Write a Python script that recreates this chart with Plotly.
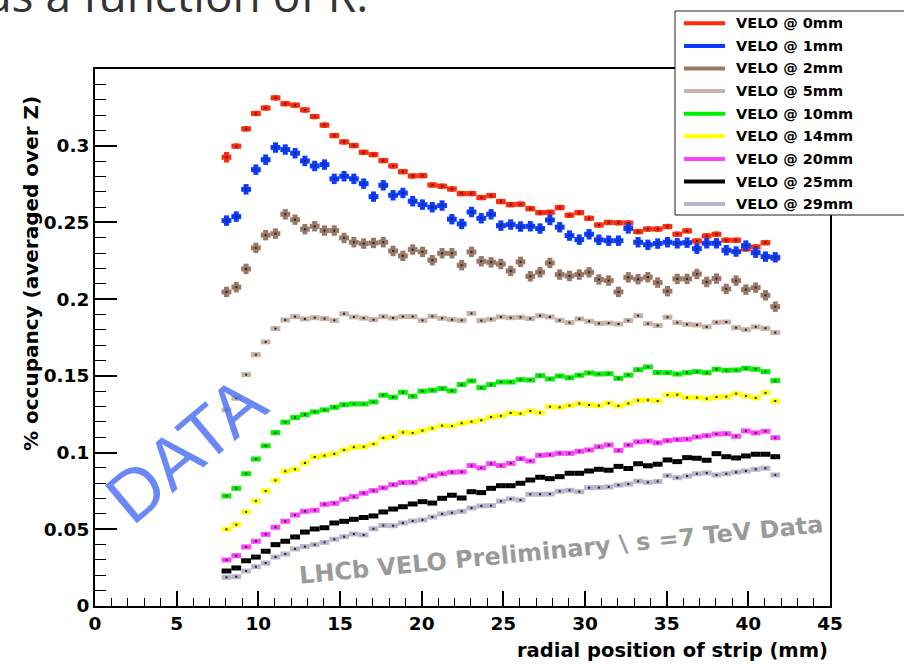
import plotly.graph_objects as go

# Histogram binning in radius (mm): 57 bins of 0.6 mm starting at 8.05 mm
r_first = 8.05
r_step = 0.6
n_bins = 57
radius = [round(r_first + r_step * i, 3) for i in range(n_bins)]

labels = ["VELO @ 0mm", "VELO @ 1mm", "VELO @ 2mm", "VELO @ 5mm", "VELO @ 10mm",
          "VELO @ 14mm", "VELO @ 20mm", "VELO @ 25mm", "VELO @ 29mm"]

y_tick_values = [0, 0.05, 0.1, 0.15, 0.2, 0.25, 0.3]
y_tick_labels = ["0", "0.05", "0.1", "0.15", "0.2", "0.25", "0.3"]
x_tick_values = [0, 5, 10, 15, 20, 25, 30, 35, 40, 45]

occ_0mm = [0.2925, 0.2997, 0.3110, 0.3210, 0.3246, 0.3312, 0.3274, 0.3264, 0.3233, 0.3190,
           0.3134, 0.3066, 0.3025, 0.3001, 0.2957, 0.2942, 0.2903, 0.2868, 0.2831, 0.2803,
           0.2805, 0.2744, 0.2736, 0.2718, 0.2688, 0.2688, 0.2662, 0.2675, 0.2636, 0.2616,
           0.2619, 0.2590, 0.2564, 0.2566, 0.2597, 0.2547, 0.2564, 0.2527, 0.2483, 0.2500,
           0.2498, 0.2496, 0.2440, 0.2457, 0.2457, 0.2473, 0.2423, 0.2445, 0.2379, 0.2412,
           0.2423, 0.2384, 0.2384, 0.2327, 0.2340, 0.2368, 0.2267]
occ_1mm = [0.2512, 0.2538, 0.2716, 0.2844, 0.2909, 0.2988, 0.2975, 0.2951, 0.2901, 0.2868,
           0.2877, 0.2784, 0.2801, 0.2784, 0.2753, 0.2668, 0.2742, 0.2677, 0.2692, 0.2638,
           0.2616, 0.2599, 0.2610, 0.2521, 0.2490, 0.2568, 0.2527, 0.2553, 0.2479, 0.2486,
           0.2473, 0.2475, 0.2460, 0.2516, 0.2469, 0.2414, 0.2388, 0.2423, 0.2387, 0.2381,
           0.2381, 0.2461, 0.2371, 0.2354, 0.2362, 0.2371, 0.2364, 0.2368, 0.2329, 0.2364,
           0.2364, 0.2319, 0.2310, 0.2349, 0.2303, 0.2277, 0.2273]
occ_2mm = [0.2047, 0.2078, 0.2197, 0.2334, 0.2417, 0.2427, 0.2553, 0.2518, 0.2456, 0.2475,
           0.2447, 0.2447, 0.2399, 0.2371, 0.2362, 0.2366, 0.2371, 0.2314, 0.2282, 0.2323,
           0.2308, 0.2254, 0.2299, 0.2299, 0.2221, 0.2308, 0.2247, 0.2240, 0.2229, 0.2184,
           0.2243, 0.2149, 0.2175, 0.2236, 0.2160, 0.2151, 0.2160, 0.2175, 0.2128, 0.2121,
           0.2047, 0.2142, 0.2130, 0.2143, 0.2108, 0.2052, 0.2132, 0.2132, 0.2164, 0.2112,
           0.2134, 0.2067, 0.2121, 0.2062, 0.2075, 0.2025, 0.1951]
occ_5mm = [0.1278, 0.1354, 0.1508, 0.1638, 0.1721, 0.1808, 0.1864, 0.1886, 0.1871, 0.1879,
           0.1873, 0.1862, 0.1905, 0.1884, 0.1876, 0.1866, 0.1886, 0.1877, 0.1886, 0.1886,
           0.1862, 0.1888, 0.1875, 0.1866, 0.1862, 0.1907, 0.1860, 0.1869, 0.1884, 0.1879,
           0.1882, 0.1873, 0.1892, 0.1884, 0.1862, 0.1847, 0.1871, 0.1856, 0.1842, 0.1844,
           0.1838, 0.1860, 0.1892, 0.1840, 0.1828, 0.1882, 0.1847, 0.1836, 0.1832, 0.1819,
           0.1849, 0.1851, 0.1814, 0.1801, 0.1819, 0.1810, 0.1782]
occ_10mm = [0.0717, 0.0767, 0.0862, 0.0958, 0.1044, 0.1130, 0.1198, 0.1228, 0.1247, 0.1265,
            0.1278, 0.1295, 0.1312, 0.1317, 0.1317, 0.1330, 0.1374, 0.1361, 0.1393, 0.1367,
            0.1400, 0.1406, 0.1417, 0.1402, 0.1443, 0.1467, 0.1423, 0.1443, 0.1460, 0.1460,
            0.1475, 0.1473, 0.1501, 0.1480, 0.1499, 0.1488, 0.1504, 0.1519, 0.1512, 0.1514,
            0.1484, 0.1505, 0.1540, 0.1558, 0.1522, 0.1521, 0.1512, 0.1521, 0.1527, 0.1521,
            0.1543, 0.1536, 0.1538, 0.1549, 0.1543, 0.1527, 0.1469]
occ_14mm = [0.0500, 0.0530, 0.0613, 0.0684, 0.0750, 0.0819, 0.0878, 0.0891, 0.0932, 0.0971,
            0.0980, 0.0991, 0.1017, 0.1035, 0.1038, 0.1056, 0.1095, 0.1102, 0.1132, 0.1128,
            0.1143, 0.1158, 0.1175, 0.1173, 0.1191, 0.1201, 0.1211, 0.1232, 0.1239, 0.1258,
            0.1254, 0.1271, 0.1260, 0.1299, 0.1295, 0.1306, 0.1319, 0.1310, 0.1306, 0.1322,
            0.1304, 0.1320, 0.1340, 0.1342, 0.1336, 0.1375, 0.1377, 0.1358, 0.1358, 0.1351,
            0.1362, 0.1364, 0.1384, 0.1369, 0.1356, 0.1389, 0.1336]
occ_20mm = [0.0300, 0.0328, 0.0385, 0.0422, 0.0467, 0.0513, 0.0552, 0.0593, 0.0617, 0.0624,
            0.0663, 0.0669, 0.0696, 0.0713, 0.0735, 0.0752, 0.0770, 0.0791, 0.0804, 0.0806,
            0.0828, 0.0849, 0.0862, 0.0872, 0.0874, 0.0915, 0.0900, 0.0928, 0.0915, 0.0930,
            0.0960, 0.0945, 0.0982, 0.0986, 0.0995, 0.0995, 0.1008, 0.1017, 0.1038, 0.1050,
            0.1014, 0.1049, 0.1070, 0.1075, 0.1064, 0.1078, 0.1084, 0.1087, 0.1102, 0.1110,
            0.1121, 0.1123, 0.1106, 0.1141, 0.1128, 0.1139, 0.1097]
occ_25mm = [0.0228, 0.0248, 0.0295, 0.0319, 0.0357, 0.0400, 0.0422, 0.0450, 0.0482, 0.0502,
            0.0510, 0.0541, 0.0552, 0.0565, 0.0577, 0.0587, 0.0613, 0.0632, 0.0647, 0.0665,
            0.0680, 0.0671, 0.0702, 0.0722, 0.0704, 0.0745, 0.0739, 0.0767, 0.0784, 0.0784,
            0.0800, 0.0821, 0.0839, 0.0830, 0.0843, 0.0865, 0.0865, 0.0880, 0.0891, 0.0885,
            0.0910, 0.0896, 0.0927, 0.0914, 0.0924, 0.0952, 0.0941, 0.0967, 0.0963, 0.0950,
            0.0993, 0.0973, 0.0965, 0.0978, 0.0989, 0.0989, 0.0973]
occ_29mm = [0.0187, 0.0191, 0.0228, 0.0256, 0.0280, 0.0319, 0.0339, 0.0372, 0.0387, 0.0400,
            0.0415, 0.0435, 0.0452, 0.0469, 0.0463, 0.0503, 0.0525, 0.0523, 0.0541, 0.0554,
            0.0561, 0.0580, 0.0600, 0.0608, 0.0617, 0.0639, 0.0652, 0.0654, 0.0683, 0.0698,
            0.0691, 0.0728, 0.0728, 0.0730, 0.0748, 0.0754, 0.0745, 0.0771, 0.0772, 0.0776,
            0.0788, 0.0795, 0.0813, 0.0806, 0.0812, 0.0849, 0.0836, 0.0847, 0.0862, 0.0867,
            0.0854, 0.0862, 0.0872, 0.0880, 0.0891, 0.0898, 0.0854]

# statistical uncertainty per sample (occupancy units)
stat_err = [0.0018, 0.0034, 0.0034, 0.0012, 0.0010, 0.0010, 0.0010, 0.0011, 0.0010]
first_bin_err_0mm = 0.0034

series = [occ_0mm, occ_1mm, occ_2mm, occ_5mm, occ_10mm, occ_14mm, occ_20mm, occ_25mm, occ_29mm]
colors = ["#ff2a08", "#0a3cff", "#9a7868", "#c8b2a8", "#00f000", "#ffff00",
          "#ff40ff", "#000000", "#b8b4cc"]

BOLD = "DejaVu Sans"

fig = go.Figure()
for name, vals, col, err in zip(labels, series, colors, stat_err):
    errs = [err] * len(vals)
    if name == labels[0]:
        errs[0] = first_bin_err_0mm
    fig.add_trace(go.Scatter(
        x=radius, y=vals, mode="markers", name=name, showlegend=False,
        marker=dict(size=2, color="#202020", symbol="square"),
        error_x=dict(type="constant", value=r_step / 2, thickness=5, width=0, color=col),
        error_y=dict(type="data", array=errs, thickness=5, width=0, color=col),
    ))

# plot-area pixel geometry
L, R, T, B = 95, 830, 69, 606
W, H = 904, 668


def fx(p):
    return (p - L) / (R - L)


def fy(p):
    return (B - p) / (B - T)


shapes = []
annotations = []

# legend box
shapes.append(dict(type="rect", xref="paper", yref="paper",
                   x0=fx(675), x1=fx(920), y0=fy(215), y1=fy(11),
                   fillcolor="white", line=dict(color="#222222", width=1), layer="above"))
for k, (name, col) in enumerate(zip(labels, colors)):
    yy = 23.3 + 22.6 * k
    shapes.append(dict(type="line", xref="paper", yref="paper",
                       x0=fx(684), x1=fx(725), y0=fy(yy), y1=fy(yy),
                       line=dict(color=col, width=4), layer="above"))
    annotations.append(dict(text=name, xref="paper", yref="paper", x=fx(734), y=fy(yy),
                            xanchor="left", yanchor="middle", showarrow=False,
                            font=dict(family=BOLD, size=14.5, color="black", weight="bold")))

# axis titles
annotations.append(dict(text="% occupancy (averaged over Z)", xref="paper", yref="paper",
                        x=fx(31), y=fy(274), xanchor="center", yanchor="middle",
                        textangle=-90, showarrow=False,
                        font=dict(family=BOLD, size=20, color="black", weight="bold")))
annotations.append(dict(text="radial position of strip (mm)", xref="paper", yref="paper",
                        x=fx(830), y=fy(650), xanchor="right", yanchor="middle",
                        showarrow=False,
                        font=dict(family=BOLD, size=19.5, color="black", weight="bold")))

# watermark texts
annotations.append(dict(text="DATA", xref="paper", yref="paper", x=fx(185), y=fy(450),
                        xanchor="center", yanchor="middle", textangle=-40, showarrow=False,
                        font=dict(family="Liberation Sans", size=72, color="rgba(80,115,245,0.85)")))
annotations.append(dict(text="LHCb VELO Preliminary \\ s =7 TeV Data", xref="paper", yref="paper",
                        x=fx(561), y=fy(550), xanchor="center", yanchor="middle",
                        textangle=-5.6, showarrow=False,
                        font=dict(family=BOLD, size=24, color="#9a9a9a", weight="bold")))

# slide heading above the plot (runs off the top edge of the page)
annotations.append(dict(text="as a function of R:", xref="paper", yref="paper",
                        x=fx(370), y=fy(-6), xanchor="right", yanchor="middle",
                        showarrow=False,
                        font=dict(family="Open Sans", size=46, color="#333333")))

axis_font = dict(family=BOLD, size=18.5, color="black", weight="bold")
fig.update_layout(
    width=W, height=H, autosize=False,
    margin=dict(l=L, r=W - R, t=T, b=H - B, pad=0),
    paper_bgcolor="white", plot_bgcolor="white",
    shapes=shapes, annotations=annotations,
    xaxis=dict(range=[0, 45], showgrid=False, zeroline=False,
               showline=True, linecolor="black", linewidth=2, mirror=True,
               ticks="inside", ticklen=15, tickwidth=1.5, tickcolor="black",
               tickmode="array", tickvals=x_tick_values, tickfont=axis_font,
               minor=dict(ticks="inside", ticklen=8, tickwidth=1.2, tickcolor="black",
                          tick0=0, dtick=1)),
    yaxis=dict(range=[0, 0.35], showgrid=False, zeroline=False,
               showline=True, linecolor="black", linewidth=2, mirror=True,
               ticks="inside", ticklen=22, tickwidth=1.5, tickcolor="black",
               tickmode="array", tickvals=y_tick_values, ticktext=y_tick_labels,
               tickfont=axis_font,
               minor=dict(ticks="inside", ticklen=11, tickwidth=1.2, tickcolor="black",
                          tick0=0, dtick=0.01)),
)

fig.write_html("out.html")
